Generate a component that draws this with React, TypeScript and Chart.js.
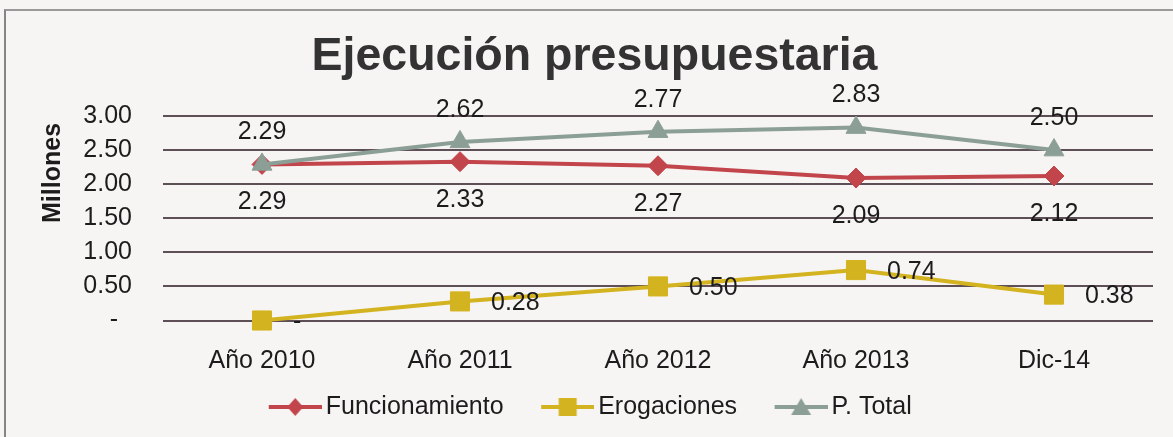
import React, { useEffect, useRef } from 'react';
import { Chart, registerables } from 'chart.js';

Chart.register(...registerables);

const categories = ['Año 2010', 'Año 2011', 'Año 2012', 'Año 2013', 'Dic-14'];
const funcionamiento = [2.29, 2.33, 2.27, 2.09, 2.12];
const erogaciones = [0, 0.28, 0.5, 0.74, 0.38];
const pTotal = [2.29, 2.62, 2.77, 2.83, 2.5];
const seriesNames = ['Funcionamiento', 'Erogaciones', 'P. Total'];
const yMin = 0;
const yMax = 3;
const yStep = 0.5;
const titleText = 'Ejecución presupuestaria';
const yTitle = 'Millones';

const RED = '#c2454c';
const GOLD = '#d3b31f';
const GRAY = '#8c9f96';
const TEXT = '#1c1c1c';
const FONT = '"Liberation Sans", Arial, Helvetica, sans-serif';

function fmt(v: number): string {
  return v === 0 ? '-' : v.toFixed(2);
}

const IMG_PAD = 36;
const IMG_W = IMG_PAD + 53;

function legendImage(color: string, shape: string): HTMLCanvasElement {
  const c = document.createElement('canvas');
  c.width = IMG_W;
  c.height = 24;
  const ctx = c.getContext('2d')!;
  ctx.strokeStyle = color;
  ctx.lineWidth = 4;
  ctx.beginPath();
  ctx.moveTo(IMG_PAD, 12);
  ctx.lineTo(IMG_W, 12);
  ctx.stroke();
  const cx = IMG_PAD + 26.5;
  const cy = 12;
  ctx.fillStyle = color;
  ctx.beginPath();
  if (shape === 'diamond') {
    ctx.moveTo(cx, cy - 9);
    ctx.lineTo(cx + 8, cy);
    ctx.lineTo(cx, cy + 9);
    ctx.lineTo(cx - 8, cy);
    ctx.closePath();
  } else if (shape === 'square') {
    ctx.rect(cx - 9, cy - 9, 18, 18);
  } else {
    ctx.moveTo(cx, cy - 9);
    ctx.lineTo(cx + 10, cy + 8);
    ctx.lineTo(cx - 10, cy + 8);
    ctx.closePath();
  }
  ctx.fill();
  return c;
}

const valueLabels = {
  id: 'valueLabels',
  afterLayout(chart: any) {
    const lg = chart.legend;
    if (lg) {
      lg.left -= 18;
      lg.right -= 18;
    }
  },
  afterDatasetsDraw(chart: any) {
    const ctx = chart.ctx;
    ctx.save();
    ctx.font = `25px ${FONT}`;
    ctx.fillStyle = TEXT;
    ctx.textBaseline = 'middle';
    chart.data.datasets.forEach((ds: any, di: number) => {
      const meta = chart.getDatasetMeta(di);
      meta.data.forEach((pt: any, i: number) => {
        const txt = fmt(ds.data[i]);
        if (di === 0) {
          ctx.textAlign = 'center';
          ctx.fillText(txt, pt.x, pt.y + 38);
        } else if (di === 2) {
          ctx.textAlign = 'center';
          ctx.fillText(txt, pt.x, pt.y - 32);
        } else {
          ctx.textAlign = 'left';
          ctx.fillText(txt, pt.x + 31, pt.y + 2);
        }
      });
    });
    ctx.restore();
  },
};

export default function App() {
  const ref = useRef<HTMLCanvasElement | null>(null);

  useEffect(() => {
    document.body.style.margin = '0';
    const imgs = [legendImage(RED, 'diamond'), legendImage(GOLD, 'square'), legendImage(GRAY, 'triangle')];
    const chart = new Chart(ref.current!, {
      type: 'line',
      data: {
        labels: categories,
        datasets: [
          {
            label: seriesNames[0],
            data: funcionamiento,
            borderColor: RED,
            backgroundColor: RED,
            borderWidth: 4,
            pointStyle: 'rectRot',
            pointRadius: 10,
            pointBorderWidth: 1,
            clip: false,
            order: 2,
          },
          {
            label: seriesNames[1],
            data: erogaciones,
            borderColor: GOLD,
            backgroundColor: GOLD,
            borderWidth: 4,
            pointStyle: 'rect',
            pointRadius: 13.5,
            pointBorderWidth: 1,
            clip: false,
            order: 1,
          },
          {
            label: seriesNames[2],
            data: pTotal,
            borderColor: GRAY,
            backgroundColor: GRAY,
            borderWidth: 4,
            pointStyle: 'triangle',
            pointRadius: 11.5,
            pointBorderWidth: 1,
            clip: false,
            order: 0,
          },
        ],
      },
      options: {
        animation: false,
        responsive: false,
        layout: { padding: { left: 36, right: 20, top: 10, bottom: 7.5 } },
        plugins: {
          title: {
            display: true,
            text: titleText,
            color: '#333333',
            font: { family: FONT, size: 46.5, weight: 'bold' },
            padding: { top: 19.6, bottom: 30.6 },
          },
          legend: {
            position: 'bottom',
            labels: {
              usePointStyle: true,
              pointStyleWidth: IMG_W - 17,
              padding: 10,
              color: TEXT,
              font: { family: FONT, size: 25 },
              generateLabels: (c: any) =>
                c.data.datasets.map((ds: any, i: number) => ({
                  text: ds.label,
                  pointStyle: imgs[i],
                  fillStyle: ds.borderColor,
                  strokeStyle: ds.borderColor,
                  lineWidth: 0,
                  hidden: false,
                  datasetIndex: i,
                  fontColor: TEXT,
                })),
            },
          },
          tooltip: { enabled: false },
        },
        scales: {
          x: {
            offset: true,
            grid: { display: false },
            border: { display: false },
            ticks: { color: TEXT, font: { family: FONT, size: 25 }, padding: 18 },
            afterFit: (s: any) => {
              s.height = 64;
            },
          },
          y: {
            min: yMin,
            max: yMax,
            ticks: {
              stepSize: yStep,
              padding: 31,
              color: TEXT,
              font: { family: FONT, size: 25 },
              callback: (v: any) => (Number(v) === 0 ? '-  ' : Number(v).toFixed(2)),
            },
            grid: { color: '#5e4f56', lineWidth: 2, drawTicks: false },
            border: { display: false },
            title: {
              display: true,
              text: yTitle + ' ',
              align: 'end',
              color: TEXT,
              font: { family: FONT, size: 25, weight: 'bold' },
              padding: { top: 2, bottom: 0 },
            },
            afterFit: (s: any) => {
              s.width = 127;
            },
          },
        },
      },
      plugins: [valueLabels],
    } as any);
    return () => chart.destroy();
  }, []);

  return (
    <div style={{ position: 'fixed', left: 0, top: 0, width: 1173, height: 437, background: '#f7f5f3', overflow: 'hidden' }}>
      <canvas ref={ref} width={1173} height={437} style={{ position: 'absolute', left: 0, top: 0, width: 1173, height: 437 }} />
      <div
        style={{
          position: 'absolute',
          left: 4,
          top: 9,
          width: 1200,
          height: 460,
          borderLeft: '2px solid #858585',
          borderTop: '2px solid #9a9a9a',
          pointerEvents: 'none',
        }}
      />
    </div>
  );
}
